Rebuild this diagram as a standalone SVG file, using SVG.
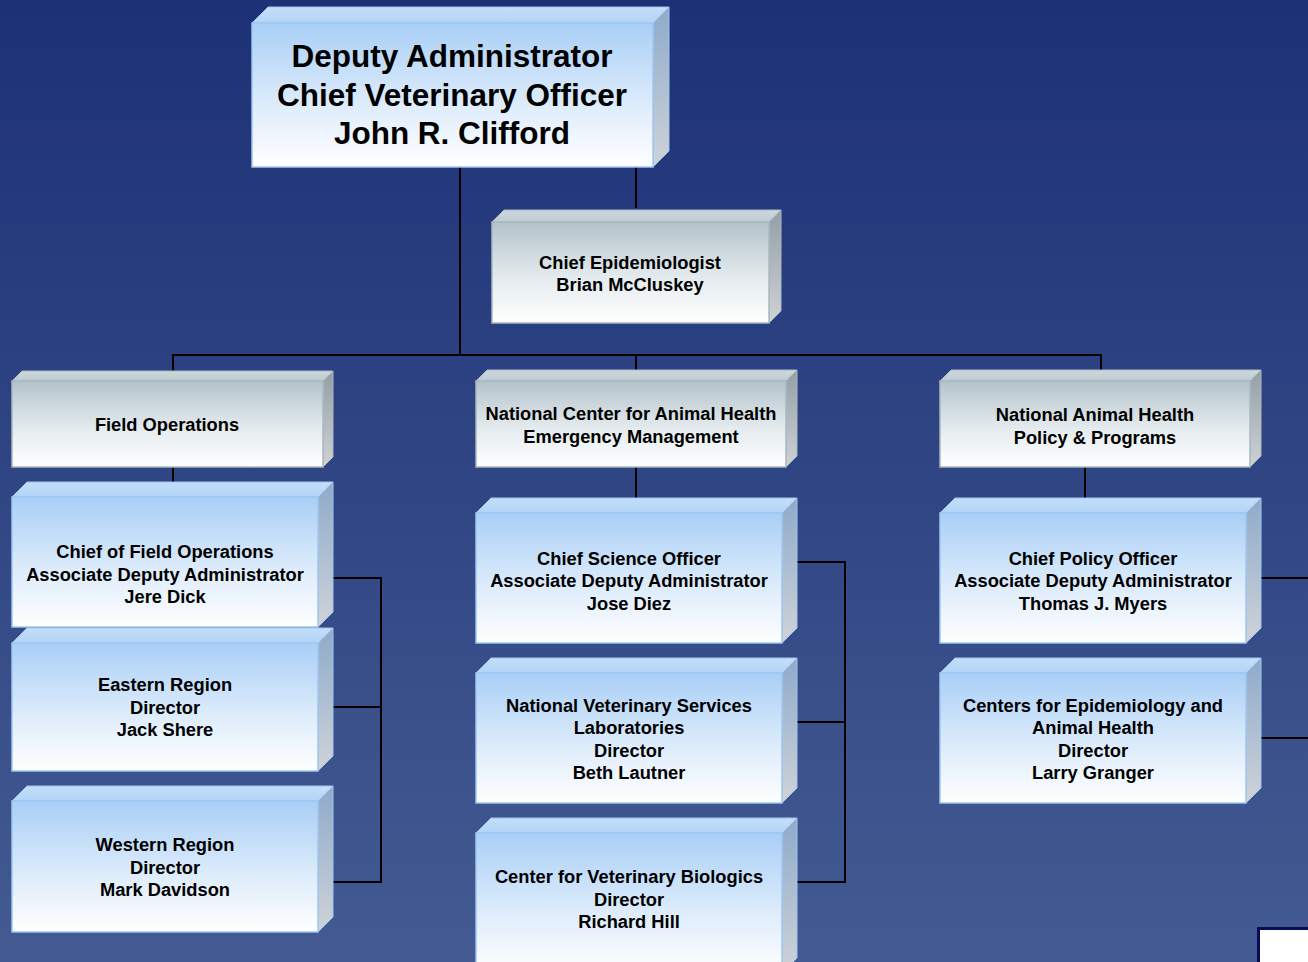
<svg xmlns="http://www.w3.org/2000/svg" width="1308" height="962" viewBox="0 0 1308 962">
<defs>
<linearGradient id="bg" x1="0" y1="0" x2="0" y2="1"><stop offset="0" stop-color="#1d3176"/><stop offset="1" stop-color="#435b92"/></linearGradient>
<linearGradient id="bFront" x1="0" y1="0" x2="0" y2="1"><stop offset="0" stop-color="#a9cff7"/><stop offset="0.55" stop-color="#dcebfb"/><stop offset="1" stop-color="#ffffff"/></linearGradient>
<linearGradient id="bTop" x1="0" y1="0" x2="0" y2="1"><stop offset="0" stop-color="#c4def9"/><stop offset="1" stop-color="#b2d4f7"/></linearGradient>
<linearGradient id="bSide" x1="0" y1="0" x2="0" y2="1"><stop offset="0" stop-color="#8eaacb"/><stop offset="1" stop-color="#cfd3d8"/></linearGradient>
<linearGradient id="gFront" x1="0" y1="0" x2="0" y2="1"><stop offset="0" stop-color="#b3c3ca"/><stop offset="0.55" stop-color="#e4ebee"/><stop offset="1" stop-color="#ffffff"/></linearGradient>
<linearGradient id="gTop" x1="0" y1="0" x2="0" y2="1"><stop offset="0" stop-color="#cdd8dd"/><stop offset="1" stop-color="#bccbd1"/></linearGradient>
<linearGradient id="gSide" x1="0" y1="0" x2="0" y2="1"><stop offset="0" stop-color="#939fa6"/><stop offset="1" stop-color="#cfd2d4"/></linearGradient>
</defs>
<style>
.bf{fill:url(#bFront);stroke:#9fc6ef;stroke-width:1.5}
.bt{fill:url(#bTop);stroke:#9fc6ef;stroke-width:1}
.bs{fill:url(#bSide);stroke:#9fc6ef;stroke-width:1}
.gf{fill:url(#gFront);stroke:#a9b8c0;stroke-width:1.5}
.gt{fill:url(#gTop);stroke:#a9b8c0;stroke-width:1}
.gs{fill:url(#gSide);stroke:#a9b8c0;stroke-width:1}
text{font-family:"Liberation Sans",Arial,sans-serif;font-weight:bold;fill:#000;text-anchor:middle}
.s{font-size:18.3px}
.l{font-size:31.5px}
.c line,.c polyline{stroke:#000;stroke-width:2;fill:none}
</style>
<rect width="1308" height="962" fill="url(#bg)"/>

<g class="c" id="connectors">
<line x1="460" y1="167" x2="460" y2="355"/>
<line x1="636" y1="167" x2="636" y2="208"/>
<line x1="173" y1="355" x2="1102" y2="355"/>
<line x1="173" y1="354" x2="173" y2="372"/>
<line x1="636" y1="354" x2="636" y2="372"/>
<line x1="1101" y1="354" x2="1101" y2="372"/>
<line x1="173" y1="467" x2="173" y2="498"/>
<line x1="636" y1="467" x2="636" y2="499"/>
<line x1="1085" y1="467" x2="1085" y2="499"/>
<polyline points="333,578 381,578 381,882 333,882"/>
<line x1="318" y1="707" x2="381" y2="707"/>
<polyline points="797,562 845,562 845,882 797,882"/>
<line x1="797" y1="722" x2="845" y2="722"/>
<line x1="1261" y1="578" x2="1308" y2="578"/>
<line x1="1261" y1="738" x2="1308" y2="738"/>
</g>

<g id="deputy">
<polygon class="bt" points="252,23 268,7 669,7 653,23"/>
<polygon class="bs" points="653,23 669,7 669,151 653,167"/>
<rect class="bf" x="252" y="23" width="401" height="144"/>
<text class="l" x="452" y="67">Deputy Administrator</text>
<text class="l" x="452" y="106">Chief Veterinary Officer</text>
<text class="l" x="452" y="144">John R. Clifford</text>
</g>

<g id="epi">
<polygon class="gt" points="492,222 504,210 781,210 769,222"/>
<polygon class="gs" points="769,222 781,210 781,311 769,323"/>
<rect class="gf" x="492" y="222" width="277" height="101"/>
<text class="s" x="630" y="268.5">Chief Epidemiologist</text>
<text class="s" x="630" y="290.5">Brian McCluskey</text>
</g>

<g id="fieldops">
<polygon class="gt" points="12,381 22,371 333,371 323,381"/>
<polygon class="gs" points="323,381 333,371 333,457 323,467"/>
<rect class="gf" x="12" y="381" width="311" height="86"/>
<text class="s" x="167" y="430.5">Field Operations</text>
</g>

<g id="ncahem">
<polygon class="gt" points="476,381 487,370 797,370 786,381"/>
<polygon class="gs" points="786,381 797,370 797,456 786,467"/>
<rect class="gf" x="476" y="381" width="310" height="86"/>
<text class="s" x="631" y="419.5">National Center for Animal Health</text>
<text class="s" x="631" y="442.5">Emergency Management</text>
</g>

<g id="nahpp">
<polygon class="gt" points="940,381 951,370 1261,370 1250,381"/>
<polygon class="gs" points="1250,381 1261,370 1261,456 1250,467"/>
<rect class="gf" x="940" y="381" width="310" height="86"/>
<text class="s" x="1095" y="420.5">National Animal Health</text>
<text class="s" x="1095" y="443.5">Policy &amp; Programs</text>
</g>

<g id="chieffo">
<polygon class="bt" points="12,497 27,482 333,482 318,497"/>
<polygon class="bs" points="318,497 333,482 333,612 318,627"/>
<rect class="bf" x="12" y="497" width="306" height="130"/>
<text class="s" x="165" y="557.5">Chief of Field Operations</text>
<text class="s" x="165" y="580.5">Associate Deputy Administrator</text>
<text class="s" x="165" y="602.5">Jere Dick</text>
</g>

<g id="eastern">
<polygon class="bt" points="12,643 27,628 333,628 318,643"/>
<polygon class="bs" points="318,643 333,628 333,756 318,771"/>
<rect class="bf" x="12" y="643" width="306" height="128"/>
<text class="s" x="165" y="690.5">Eastern Region</text>
<text class="s" x="165" y="713.5">Director</text>
<text class="s" x="165" y="735.5">Jack Shere</text>
</g>

<g id="western">
<polygon class="bt" points="12,801 27,786 333,786 318,801"/>
<polygon class="bs" points="318,801 333,786 333,917 318,932"/>
<rect class="bf" x="12" y="801" width="306" height="131"/>
<text class="s" x="165" y="850.5">Western Region</text>
<text class="s" x="165" y="873.5">Director</text>
<text class="s" x="165" y="895.5">Mark Davidson</text>
</g>

<g id="chiefsci">
<polygon class="bt" points="476,513 491,498 797,498 782,513"/>
<polygon class="bs" points="782,513 797,498 797,628 782,643"/>
<rect class="bf" x="476" y="513" width="306" height="130"/>
<text class="s" x="629" y="564.5">Chief Science Officer</text>
<text class="s" x="629" y="586.5">Associate Deputy Administrator</text>
<text class="s" x="629" y="609.5">Jose Diez</text>
</g>

<g id="nvsl">
<polygon class="bt" points="476,673 491,658 797,658 782,673"/>
<polygon class="bs" points="782,673 797,658 797,788 782,803"/>
<rect class="bf" x="476" y="673" width="306" height="130"/>
<text class="s" x="629" y="711.5">National Veterinary Services</text>
<text class="s" x="629" y="733.5">Laboratories</text>
<text class="s" x="629" y="756.5">Director</text>
<text class="s" x="629" y="778.5">Beth Lautner</text>
</g>

<g id="cvb">
<polygon class="bt" points="476,833 491,818 797,818 782,833"/>
<polygon class="bs" points="782,833 797,818 797,958 782,973"/>
<rect class="bf" x="476" y="833" width="306" height="140"/>
<text class="s" x="629" y="882.5">Center for Veterinary Biologics</text>
<text class="s" x="629" y="905.5">Director</text>
<text class="s" x="629" y="927.5">Richard Hill</text>
</g>

<g id="chiefpol">
<polygon class="bt" points="940,513 955,498 1261,498 1246,513"/>
<polygon class="bs" points="1246,513 1261,498 1261,628 1246,643"/>
<rect class="bf" x="940" y="513" width="306" height="130"/>
<text class="s" x="1093" y="564.5">Chief Policy Officer</text>
<text class="s" x="1093" y="586.5">Associate Deputy Administrator</text>
<text class="s" x="1093" y="609.5">Thomas J. Myers</text>
</g>

<g id="ceah">
<polygon class="bt" points="940,673 955,658 1261,658 1246,673"/>
<polygon class="bs" points="1246,673 1261,658 1261,788 1246,803"/>
<rect class="bf" x="940" y="673" width="306" height="130"/>
<text class="s" x="1093" y="711.5">Centers for Epidemiology and</text>
<text class="s" x="1093" y="733.5">Animal Health</text>
<text class="s" x="1093" y="756.5">Director</text>
<text class="s" x="1093" y="778.5">Larry Granger</text>
</g>

<rect x="1258.5" y="928.5" width="60" height="40" fill="#ffffff" stroke="#0b0b5c" stroke-width="3"/>
</svg>
